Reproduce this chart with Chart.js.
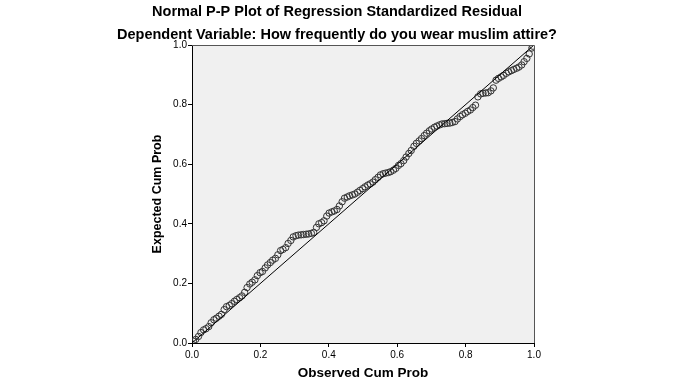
<!DOCTYPE html>
<html>
<head>
<meta charset="utf-8">
<title>Normal P-P Plot of Regression Standardized Residual</title>
<script src="https://cdn.jsdelivr.net/npm/chart.js@4.4.1/dist/chart.umd.min.js"></script>
<style>
    html, body { margin: 0; padding: 0; background: #ffffff; }
    canvas { display: block; }
</style>
</head>
<body>
<canvas id="ppPlot" width="675" height="384"></canvas>
<script>
/**
 * Chart data
 */
const chartTitle = 'Normal P-P Plot of Regression Standardized Residual';
const chartSubtitle = 'Dependent Variable: How frequently do you wear muslim attire?';
const xAxisTitle = 'Observed Cum Prob';
const yAxisTitle = 'Expected Cum Prob';
const tickValues = [0.0, 0.2, 0.4, 0.6, 0.8, 1.0];

// Observed cumulative probability of each residual
const observedCumProb = [
    0.004, 0.011, 0.019, 0.026, 0.034, 0.041, 0.049, 0.056, 0.064, 0.071,
    0.079, 0.086, 0.094, 0.101, 0.109, 0.116, 0.124, 0.131, 0.139, 0.146,
    0.154, 0.161, 0.169, 0.176, 0.184, 0.191, 0.199, 0.206, 0.214, 0.221,
    0.229, 0.236, 0.244, 0.251, 0.259, 0.266, 0.274, 0.281, 0.289, 0.296,
    0.304, 0.311, 0.319, 0.326, 0.334, 0.341, 0.349, 0.356, 0.364, 0.371,
    0.379, 0.386, 0.394, 0.401, 0.409, 0.416, 0.424, 0.431, 0.439, 0.446,
    0.454, 0.461, 0.469, 0.476, 0.484, 0.491, 0.499, 0.506, 0.514, 0.521,
    0.529, 0.536, 0.544, 0.551, 0.559, 0.566, 0.574, 0.581, 0.589, 0.596,
    0.604, 0.611, 0.619, 0.626, 0.634, 0.641, 0.649, 0.656, 0.664, 0.671,
    0.679, 0.686, 0.694, 0.701, 0.709, 0.716, 0.724, 0.731, 0.739, 0.746,
    0.754, 0.761, 0.769, 0.776, 0.784, 0.791, 0.799, 0.806, 0.814, 0.821,
    0.829, 0.836, 0.844, 0.851, 0.859, 0.866, 0.874, 0.881, 0.889, 0.896,
    0.904, 0.911, 0.919, 0.926, 0.934, 0.941, 0.949, 0.956, 0.964, 0.971,
    0.979, 0.986, 0.994, 0.997
];

// Expected cumulative probability (normal) of each residual
const expectedCumProb = [
    0.006, 0.012, 0.022, 0.035, 0.044, 0.048, 0.055, 0.068, 0.078, 0.083,
    0.090, 0.096, 0.112, 0.122, 0.126, 0.132, 0.140, 0.146, 0.152, 0.158,
    0.170, 0.186, 0.198, 0.204, 0.212, 0.226, 0.236, 0.240, 0.252, 0.262,
    0.270, 0.278, 0.284, 0.296, 0.310, 0.314, 0.320, 0.334, 0.344, 0.356,
    0.360, 0.362, 0.363, 0.364, 0.365, 0.366, 0.368, 0.371, 0.388, 0.400,
    0.404, 0.410, 0.426, 0.436, 0.440, 0.443, 0.448, 0.460, 0.474, 0.486,
    0.490, 0.494, 0.497, 0.500, 0.506, 0.512, 0.518, 0.524, 0.530, 0.534,
    0.540, 0.548, 0.556, 0.564, 0.568, 0.570, 0.572, 0.575, 0.580, 0.586,
    0.596, 0.602, 0.612, 0.624, 0.636, 0.646, 0.660, 0.670, 0.678, 0.686,
    0.696, 0.704, 0.712, 0.718, 0.724, 0.728, 0.732, 0.735, 0.736, 0.737,
    0.738, 0.740, 0.743, 0.752, 0.760, 0.766, 0.771, 0.777, 0.782, 0.790,
    0.798, 0.826, 0.836, 0.838, 0.839, 0.840, 0.846, 0.856, 0.882, 0.888,
    0.893, 0.898, 0.905, 0.910, 0.914, 0.918, 0.922, 0.926, 0.933, 0.944,
    0.955, 0.970, 0.990, 0.996
];

// Reference diagonal (expected = observed)
const diagonalX = [0, 1];
const diagonalY = [0, 1];

/**
 * Plot frame: grey background, titles and the outer border
 */
const ppFramePlugin = {
    id: 'ppFrame',
    beforeDraw(chart) {
        const { ctx, chartArea: a } = chart;
        ctx.save();
        ctx.fillStyle = '#f0f0f0';
        ctx.fillRect(a.left, a.top, a.right - a.left, a.bottom - a.top);
        ctx.restore();
    },
    afterDraw(chart) {
        const { ctx, chartArea: a } = chart;
        ctx.save();

        // top and right edges of the frame
        ctx.strokeStyle = '#555555';
        ctx.lineWidth = 1;
        ctx.beginPath();
        ctx.moveTo(a.left, a.top + 0.5);
        ctx.lineTo(a.right + 0.5, a.top + 0.5);
        ctx.lineTo(a.right + 0.5, a.bottom);
        ctx.stroke();

        ctx.fillStyle = '#000000';
        ctx.textAlign = 'center';
        ctx.textBaseline = 'middle';
        ctx.font = 'bold 14.5px "Liberation Sans", Arial, sans-serif';
        ctx.fillText(chartTitle, 337, 12);
        ctx.fillText(chartSubtitle, 337, 35);

        ctx.font = 'bold 13.5px "Liberation Sans", Arial, sans-serif';
        ctx.fillText(xAxisTitle, (a.left + a.right) / 2, 373);

        ctx.font = 'bold 12.5px "Liberation Sans", Arial, sans-serif';
        ctx.translate(158, (a.top + a.bottom) / 2);
        ctx.rotate(-Math.PI / 2);
        ctx.fillText(yAxisTitle, 0, 0);
        ctx.restore();
    }
};

const tickFont = { family: '"Liberation Sans", Arial, sans-serif', size: 10 };

function buildAxis(fitSize, isX) {
    return {
        type: 'linear',
        min: 0,
        max: 1,
        afterBuildTicks: (scale) => {
            scale.ticks = tickValues.map(v => ({ value: v }));
        },
        afterFit: (scale) => {
            if (isX) {
                scale.height = fitSize;
            } else {
                scale.width = fitSize;
            }
        },
        border: { display: true, color: '#000000', width: 1 },
        grid: {
            drawOnChartArea: false,
            drawTicks: true,
            tickLength: 4,
            tickColor: '#000000'
        },
        ticks: {
            color: '#000000',
            font: tickFont,
            padding: isX ? 2 : 1,
            maxRotation: 0,
            autoSkip: false,
            callback: (value) => Number(value).toFixed(1)
        }
    };
}

const scatterPoints = observedCumProb.map((x, i) => ({ x: x, y: expectedCumProb[i] }));
const diagonalPoints = diagonalX.map((x, i) => ({ x: x, y: diagonalY[i] }));

const ctx = document.getElementById('ppPlot').getContext('2d');
const ppChart = new Chart(ctx, {
    type: 'scatter',
    data: {
        datasets: [
            {
                label: 'Residuals',
                data: scatterPoints,
                pointStyle: 'circle',
                pointRadius: 3.2,
                pointBorderWidth: 1,
                pointBorderColor: '#333333',
                pointBackgroundColor: 'rgba(0, 0, 0, 0)',
                order: 2
            },
            {
                type: 'line',
                label: 'Diagonal',
                data: diagonalPoints,
                borderColor: '#000000',
                borderWidth: 1,
                pointRadius: 0,
                fill: false,
                order: 1
            }
        ]
    },
    options: {
        responsive: false,
        animation: false,
        events: [],
        layout: {
            padding: { top: 45, right: 141, bottom: 0, left: 0 }
        },
        plugins: {
            legend: { display: false },
            title: { display: false },
            tooltip: { enabled: false }
        },
        scales: {
            x: buildAxis(41, true),
            y: buildAxis(192, false)
        }
    },
    plugins: [ppFramePlugin]
});
</script>
</body>
</html>
